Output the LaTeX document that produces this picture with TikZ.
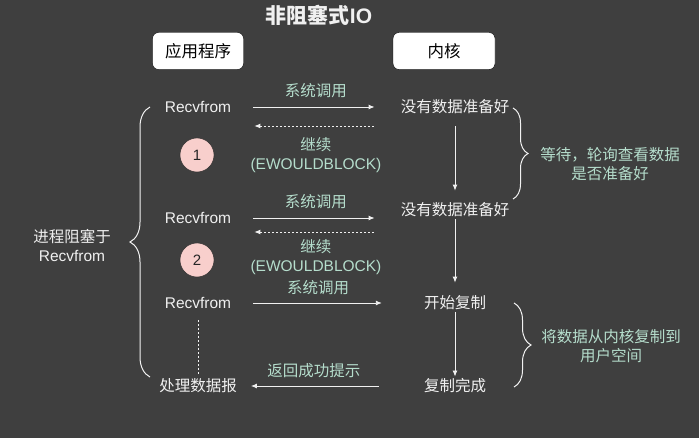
\documentclass[tikz,border=0pt]{standalone}
\usepackage{fontspec}
\setmainfont{Noto Sans CJK SC}
\newfontfamily\latin{Liberation Sans}
\usetikzlibrary{positioning, arrows.meta, decorations.pathreplacing}
\definecolor{bg}{HTML}{3F3F3F}
\definecolor{txt}{HTML}{F0F0F0}
\definecolor{note}{HTML}{B5DDCC}
\definecolor{blush}{HTML}{F8CFCC}

\begin{document}
\begin{tikzpicture}[x=1pt, y=-1pt,
    every node/.style={font=\fontsize{15.5}{19}\selectfont, text=txt, inner sep=2pt},
    latintext/.style={font=\latin\fontsize{15.5}{19}\selectfont},
    headbox/.style={draw=black, fill=white, rounded corners=6pt, text=black,
        minimum height=37pt, font=\fontsize{16.5}{19}\selectfont},
    stage/.style={circle, draw=black!85, fill=blush, minimum size=34pt,
        text=black!85, font=\latin\fontsize{15}{18}\selectfont},
    notetext/.style={text=note, align=center},
    call/.style={-{Latex[length=6pt,width=5pt]}, draw=txt, line width=0.9pt},
    reply/.style={call, dash pattern=on 2pt off 2pt},
    curly/.style={draw=txt!90, line width=1pt, decorate,
        decoration={brace, amplitude=#1}}
]
    \fill[bg] (0,0) rectangle (699,438);

    \node[font=\bfseries\fontsize{21}{24}\selectfont] (title) at (319,15) {非阻塞式{\latin IO}};
    \node[headbox, minimum width=91pt] (app) at (198,51) {应用程序};
    \node[headbox, minimum width=102pt] (kern) at (444,51) {内核};

    % application side
    \node[latintext] (rf1) at (198,107) {Recvfrom};
    \node[stage] (one) at (197,155) {1};
    \node[latintext] (rf2) at (198,218) {Recvfrom};
    \node[stage] (two) at (197,260) {2};
    \node[latintext] (rf3) at (198,303) {Recvfrom};
    \node (done) at (198,386) {处理数据报};
    \node[align=center] (blocked) at (72,246) {进程阻塞于\\{\latin Recvfrom}};

    % kernel side
    \node (nd1) at (455,107) {没有数据准备好};
    \node (nd2) at (455,210) {没有数据准备好};
    \node (copy) at (455,303) {开始复制};
    \node (fin) at (455,386) {复制完成};
    \node[notetext] (poll) at (610,164) {等待，轮询查看数据\\是否准备好};
    \node[notetext] (move) at (611,346) {将数据从内核复制到\\用户空间};

    \coordinate (k2) at (rf2.east -| nd2.west);
    \coordinate (k3) at (rf3.east -| copy.west);

    \path
        (rf1) edge[call, shorten <=20pt, shorten >=24pt] node[notetext, above=7pt] {系统调用} (nd1)
        ([yshift=-19pt]nd1.west) edge[reply, shorten <=25pt, shorten >=21pt]
            node[notetext, below=9pt] {继续\\{\latin (EWOULDBLOCK)}} ([yshift=-19pt]rf1.east)
        (rf2) edge[call, shorten <=20pt, shorten >=24pt] node[notetext, above=7pt] {系统调用} (k2)
        ([yshift=-14pt]k2) edge[reply, shorten <=25pt, shorten >=21pt]
            node[notetext, below=5pt] {继续\\{\latin (EWOULDBLOCK)}} ([yshift=-14pt]rf2.east)
        (rf3) edge[call, shorten <=20pt, shorten >=40pt] node[notetext, above=6pt, pos=0.45] {系统调用} (k3)
        (fin) edge[call, shorten <=43pt, shorten >=12pt] node[notetext, above=6pt, pos=0.59] {返回成功提示} (done)
        (nd1) edge[call, shorten <=10pt, shorten >=10pt] (nd2)
        (nd2) edge[call, shorten >=11pt] (copy)
        (copy) edge[call] (fin)
        (rf3) edge[draw=txt!80, line width=0.6pt, dash pattern=on 2pt off 2pt,
            shorten <=9pt, shorten >=3pt] (done);

    \draw[curly=20pt] (150,377) -- (150,107);
    \draw[curly=15pt] (513,108) -- (513,199);
    \draw[curly=17pt] (514,303) -- (514,387);
\end{tikzpicture}
\end{document}
